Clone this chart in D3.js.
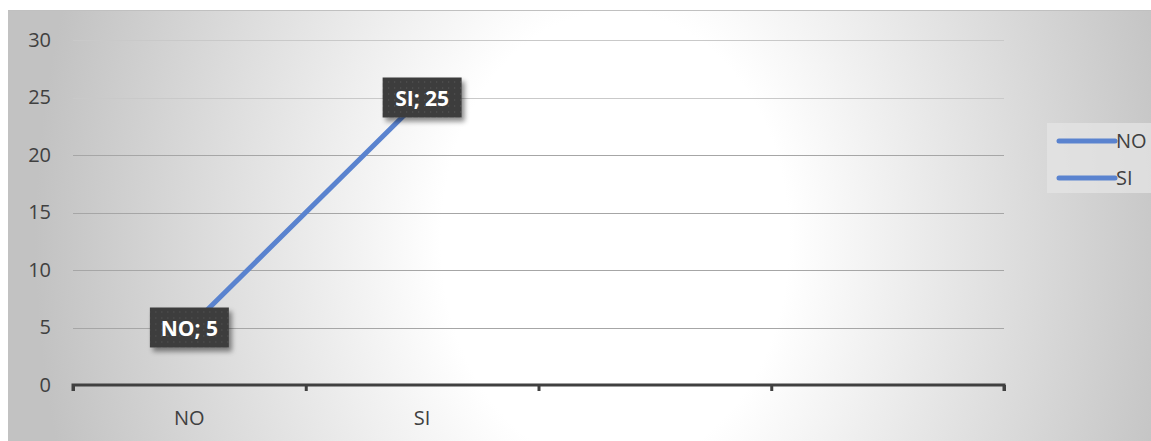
<!DOCTYPE html>
<html>
<head>
<meta charset="utf-8">
<script src="https://cdn.jsdelivr.net/npm/d3@7/dist/d3.min.js"></script>
<style>
  html, body { margin: 0; padding: 0; background: #ffffff; }
  svg { display: block; }
  text { font-family: "Open Sans", "Noto Sans", sans-serif; }
</style>
</head>
<body>
<svg id="chart" width="1151" height="441"></svg>
<script>
// Categories on the x axis (two named, two empty slots)
const categories = ["NO", "SI", "", ""];
// Series values (one point per named category)
const seriesNames = ["NO", "SI"];
const seriesValues = [5, 25];
// Y axis ticks
const yTicks = [0, 5, 10, 15, 20, 25, 30];

(function draw() {
const W = 1151, H = 441;
const svg = d3.select("#chart");
const defs = svg.append("defs");

// Soft radial backdrop, brightest in a tall band right of centre
const grad = defs.append("radialGradient")
  .attr("id", "bg")
  .attr("gradientUnits", "userSpaceOnUse")
  .attr("cx", 0).attr("cy", 0).attr("r", 1)
  .attr("gradientTransform", "translate(615,240) scale(580,760)");
grad.append("stop").attr("offset", 0).attr("stop-color", "#ffffff");
grad.append("stop").attr("offset", 0.3).attr("stop-color", "#ffffff");
grad.append("stop").attr("offset", 1).attr("stop-color", "#c2c2c2");

// Dotted texture for the data labels
const pat = defs.append("pattern")
  .attr("id", "dots").attr("patternUnits", "userSpaceOnUse")
  .attr("width", 6).attr("height", 6);
pat.append("rect").attr("width", 6).attr("height", 6).attr("fill", "#3d3d3d");
pat.append("rect").attr("x", 2).attr("y", 2).attr("width", 1).attr("height", 1).attr("fill", "#5e5e5e");

const shadow = defs.append("filter").attr("id", "shadow")
  .attr("x", "-20%").attr("y", "-30%").attr("width", "150%").attr("height", "170%");
shadow.append("feDropShadow").attr("dx", 3).attr("dy", 4).attr("stdDeviation", 2.5)
  .attr("flood-color", "#000").attr("flood-opacity", 0.45);

svg.append("rect").attr("x", 8).attr("y", 10).attr("width", W - 8).attr("height", H - 10)
  .attr("fill", "url(#bg)");
svg.append("line").attr("x1", 8).attr("x2", W).attr("y1", 10.5).attr("y2", 10.5)
  .attr("stroke", "#c0c0c0").attr("stroke-width", 1);

// Plot area
const pLeft = 73, pRight = 1004, pTop = 40, pBottom = 385;

const x = d3.scaleBand().domain(categories.map((c, i) => i)).range([pLeft, pRight]).paddingInner(0).paddingOuter(0);
const y = d3.scaleLinear().domain([0, 30]).range([pBottom, pTop]);

// Gridlines
svg.append("g").selectAll("line").data(yTicks.filter(t => t > 0)).join("line")
  .attr("x1", pLeft).attr("x2", pRight)
  .attr("y1", d => Math.round(y(d)) + 0.5).attr("y2", d => Math.round(y(d)) + 0.5)
  .attr("stroke", d => d >= 25 ? "#c9c9c9" : "#a6a6a6").attr("stroke-width", 1.2);

// Y axis labels
const yAxis = d3.axisLeft(y).tickValues(yTicks).tickSize(0).tickPadding(0);
const gy = svg.append("g").attr("transform", "translate(51,0)").call(yAxis);
gy.select(".domain").remove();
gy.selectAll("text").attr("font-size", 20).attr("fill", "#404040")
  .attr("font-family", "\"Open Sans\", sans-serif");

// X axis with category labels centered in bands
const xAxis = d3.axisBottom(d3.scaleLinear().domain([0, 4]).range([pLeft, pRight]))
  .tickValues([0, 1, 2, 3, 4]).tickSize(6).tickFormat("");
const gx = svg.append("g").attr("transform", `translate(0,${pBottom})`).call(xAxis);
gx.select(".domain").attr("stroke", "#404040").attr("stroke-width", 3)
  .attr("d", `M${pLeft},6V0H${pRight}V6`);
gx.selectAll(".tick line").attr("stroke", "#404040").attr("stroke-width", 3);

svg.append("g").selectAll("text").data(categories).join("text")
  .attr("x", (d, i) => x(i) + x.bandwidth() / 2)
  .attr("y", 425)
  .attr("text-anchor", "middle")
  .attr("font-size", 20).attr("fill", "#404040")
  .text(d => d);

// Series line
const pts = seriesValues.map((v, i) => [x(i) + x.bandwidth() / 2, y(v)]);
svg.append("path").attr("d", d3.line()(pts))
  .attr("fill", "none").attr("stroke", "#5a83cf").attr("stroke-width", 5)
  .attr("stroke-linecap", "round");

// Data labels
const lab = svg.append("g").selectAll("g").data(seriesValues).join("g")
  .attr("transform", (d, i) => `translate(${pts[i][0]},${pts[i][1]})`);
lab.append("rect").attr("x", -39.5).attr("y", -20).attr("width", 79).attr("height", 40)
  .attr("fill", "url(#dots)").attr("filter", "url(#shadow)");
lab.append("text").attr("text-anchor", "middle").attr("y", 8)
  .attr("font-size", 21).attr("font-weight", "bold").attr("fill", "#ffffff")
  .text((d, i) => `${categories[i]}; ${d}`);

// Legend
const lg = svg.append("g");
lg.append("rect").attr("x", 1047).attr("y", 123).attr("width", 104).attr("height", 70)
  .attr("fill", "#e4e4e4").attr("opacity", 0.75);
const li = lg.selectAll("g").data(seriesNames).join("g")
  .attr("transform", (d, i) => `translate(0,${141 + i * 37})`);
li.append("line").attr("x1", 1059).attr("x2", 1115).attr("y1", 0).attr("y2", 0)
  .attr("stroke", "#5a83cf").attr("stroke-width", 5).attr("stroke-linecap", "round");
li.append("text").attr("x", 1116).attr("y", 7).attr("font-size", 20).attr("fill", "#404040")
  .text(d => d);
})();
</script>
</body>
</html>
